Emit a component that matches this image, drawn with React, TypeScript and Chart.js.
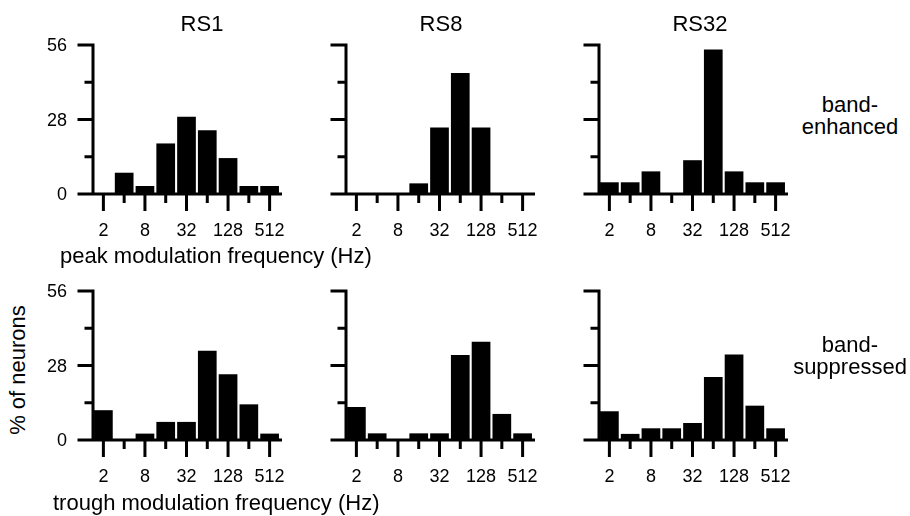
import React, { useEffect, useRef } from 'react';
import { Chart, registerables } from 'chart.js';

Chart.register(...registerables);

// ---------- data ----------
const FREQS = ['2', '4', '8', '16', '32', '64', '128', '256', '512'];
const X_LABELED = ['2', '8', '32', '128', '512'];
const Y_LABELS = [0, 28, 56];
const Y_MINOR = [14, 42];
const Y_MAX = 56;

const COLUMN_TITLES = ['RS1', 'RS8', 'RS32'];
const ROW_LABELS = [['band-', 'enhanced'], ['band-', 'suppressed']];
const X_TITLES = ['peak modulation frequency (Hz)', 'trough modulation frequency (Hz)'];
const Y_TITLE = '% of neurons';

const RS1_PEAK = [0, 8, 3, 19, 29, 24, 13.5, 3, 3];
const RS8_PEAK = [0, 0, 0, 4, 25, 45.5, 25, 0, 0];
const RS32_PEAK = [4.4, 4.4, 8.5, 0, 12.7, 54.3, 8.5, 4.4, 4.4];
const RS1_TROUGH = [11.2, 0, 2.4, 6.8, 6.8, 33.5, 24.7, 13.4, 2.4];
const RS8_TROUGH = [12.4, 2.5, 0, 2.5, 2.5, 31.9, 36.9, 9.8, 2.5];
const RS32_TROUGH = [10.8, 2.3, 4.4, 4.4, 6.4, 23.7, 32.1, 12.9, 4.4];

const ROWS = [
  [RS1_PEAK, RS8_PEAK, RS32_PEAK],
  [RS1_TROUGH, RS8_TROUGH, RS32_TROUGH],
];

// ---------- layout ----------
const FONT = '"Liberation Sans", Arial, Helvetica, sans-serif';
const COL_LEFT = [33, 286, 539];
const ROW_TOP = [33, 279];
const CANVAS_W = 255;
const CANVAS_H = 215;
const TICK_FONT = 18;

const axesPlugin = {
  id: 'panelAxes',
  afterDatasetsDraw(chart: any) {
    const { ctx, chartArea, scales } = chart;
    const showY = chart.options.plugins.panelAxes.showY;
    const x = scales.x;
    const y = scales.y;
    const lw = 3;
    const y0 = y.getPixelForValue(0);
    const left = chartArea.left;
    ctx.save();
    ctx.strokeStyle = '#000';
    ctx.lineWidth = lw;
    ctx.lineCap = 'butt';
    ctx.beginPath();
    ctx.moveTo(left, y0 + lw / 2);
    ctx.lineTo(left, y.getPixelForValue(Y_MAX) - lw / 2);
    Y_LABELS.forEach((v) => {
      const p = y.getPixelForValue(v);
      ctx.moveTo(left - 15.5, p);
      ctx.lineTo(left, p);
    });
    Y_MINOR.forEach((v) => {
      const p = y.getPixelForValue(v);
      ctx.moveTo(left - 8.5, p);
      ctx.lineTo(left, p);
    });
    ctx.moveTo(left - 15.5, y0);
    ctx.lineTo(chartArea.right + 2, y0);
    FREQS.forEach((f, i) => {
      const p = x.getPixelForValue(i);
      const len = X_LABELED.includes(f) ? 17 : 9;
      ctx.moveTo(p, y0);
      ctx.lineTo(p, y0 + len);
    });
    ctx.stroke();

    ctx.fillStyle = '#000';
    ctx.font = `${TICK_FONT}px ${FONT}`;
    ctx.textBaseline = 'alphabetic';
    ctx.textAlign = 'center';
    FREQS.forEach((f, i) => {
      if (!X_LABELED.includes(f)) return;
      ctx.fillText(f, x.getPixelForValue(i), y0 + 42);
    });
    if (showY) {
      ctx.textAlign = 'right';
      Y_LABELS.forEach((v) => {
        ctx.fillText(String(v), left - 26, y.getPixelForValue(v) + 0.358 * TICK_FONT);
      });
    }
    ctx.restore();
  },
};

function Panel({ values, showY, left, top }: { values: number[]; showY: boolean; left: number; top: number }) {
  const ref = useRef<HTMLCanvasElement>(null);
  useEffect(() => {
    const chart = new Chart(ref.current as HTMLCanvasElement, {
      type: 'bar',
      data: {
        labels: FREQS,
        datasets: [
          {
            data: values,
            backgroundColor: '#000',
            borderWidth: 0,
            barPercentage: 0.9,
            categoryPercentage: 1,
          },
        ],
      },
      options: {
        animation: false,
        responsive: false,
        maintainAspectRatio: false,
        events: [],
        layout: { padding: { top: 12, right: 8, left: 60, bottom: 54 } },
        plugins: { legend: { display: false }, tooltip: { enabled: false }, panelAxes: { showY } },
        scales: {
          x: { type: 'category', offset: true, display: false },
          y: { min: 0, max: Y_MAX, display: false },
        },
      } as any,
      plugins: [axesPlugin],
    });
    return () => chart.destroy();
  }, []);
  return (
    <canvas
      ref={ref}
      width={CANVAS_W}
      height={CANVAS_H}
      style={{ position: 'absolute', left, top, width: CANVAS_W, height: CANVAS_H }}
    />
  );
}

function Text({
  x,
  baseline,
  size,
  lines,
  align = 'left',
  lineHeight,
}: {
  x: number;
  baseline: number;
  size: number;
  lines: string[];
  align?: 'left' | 'center';
  lineHeight?: number;
}) {
  const lh = lineHeight ?? size;
  const top = baseline - ((lh - 1.117 * size) / 2 + 0.905 * size);
  return (
    <div
      style={{
        position: 'absolute',
        left: x,
        top,
        transform: align === 'center' ? 'translateX(-50%)' : undefined,
        fontFamily: FONT,
        fontSize: size,
        lineHeight: `${lh}px`,
        color: '#000',
        whiteSpace: 'nowrap',
        textAlign: align,
      }}
    >
      {lines.map((l, i) => (
        <div key={i}>{l}</div>
      ))}
    </div>
  );
}

const TITLE_X = [202, 441, 700];

export default function App() {
  return (
    <div style={{ position: 'absolute', left: 0, top: 0, width: 910, height: 516, background: '#fff', overflow: 'hidden' }}>
      {ROWS.map((row, r) =>
        row.map((vals, c) => (
          <Panel key={`${r}-${c}`} values={vals} showY={c === 0} left={COL_LEFT[c]} top={ROW_TOP[r]} />
        ))
      )}
      {COLUMN_TITLES.map((t, i) => (
        <Text key={t} x={TITLE_X[i]} baseline={32} size={22} lines={[t]} align="center" />
      ))}
      <Text x={60} baseline={264} size={22} lines={[X_TITLES[0]]} />
      <Text x={53} baseline={511} size={22} lines={[X_TITLES[1]]} />
      <Text x={850} baseline={112.7} size={22} lines={ROW_LABELS[0]} align="center" lineHeight={21.6} />
      <Text x={850} baseline={352.3} size={22} lines={ROW_LABELS[1]} align="center" lineHeight={21.7} />
      <div
        style={{
          position: 'absolute',
          left: 18,
          top: 370,
          transform: 'translate(-50%, -50%) rotate(-90deg)',
          fontFamily: FONT,
          fontSize: 22,
          lineHeight: '22px',
          whiteSpace: 'nowrap',
          color: '#000',
        }}
      >
        {Y_TITLE}
      </div>
    </div>
  );
}
